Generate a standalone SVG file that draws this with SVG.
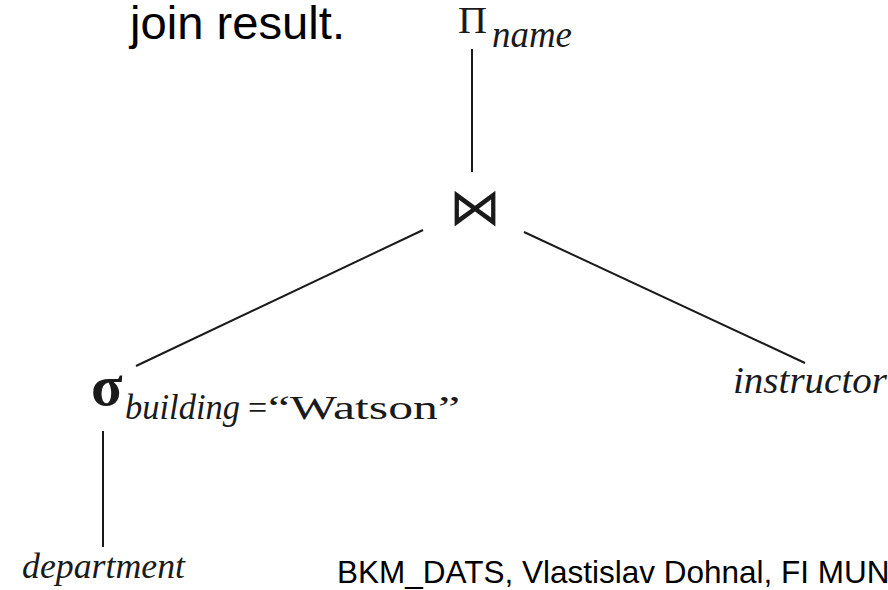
<svg xmlns="http://www.w3.org/2000/svg" width="888" height="590" viewBox="0 0 888 590">
<style>
.sans{font-family:"Liberation Sans",Arial,sans-serif;fill:#000}
.ser{font-family:"Liberation Serif","Times New Roman",serif;fill:#1a1a1a}
.it{font-style:italic}
.edge{stroke:#1a1a1a;stroke-width:2;fill:none}
</style>
<rect width="888" height="590" fill="#fff"/>
<text class="sans" x="130" y="39" font-size="46" textLength="215" lengthAdjust="spacingAndGlyphs">join result.</text>
<g id="connectors">
<line class="edge" x1="472" y1="49" x2="472" y2="172"/>
<line class="edge" x1="423" y1="230" x2="136" y2="366"/>
<line class="edge" x1="524" y1="232" x2="805" y2="363"/>
<line class="edge" x1="103" y1="431" x2="103" y2="547"/>
</g>
<g id="node-project">
<text class="ser" x="458" y="33" font-size="38" textLength="29" lengthAdjust="spacingAndGlyphs">Π</text>
<text class="ser it" x="492" y="47" font-size="37" textLength="80" lengthAdjust="spacingAndGlyphs">name</text>
</g>
<g id="node-join">
<text x="475" y="225" font-family="DejaVu Sans,sans-serif" font-size="52" text-anchor="middle" fill="#1a1a1a">⋈</text>
</g>
<g id="node-select">
<text class="ser" x="91" y="405" font-size="58" font-weight="bold">σ</text>
<text class="ser it" x="125" y="419" font-size="35" textLength="115" lengthAdjust="spacingAndGlyphs">building</text>
<text class="ser" x="248" y="419" font-size="34">=</text>
<text class="ser" x="268" y="419" font-size="33" textLength="192" lengthAdjust="spacingAndGlyphs">“Watson”</text>
</g>
<g id="node-instructor">
<text class="ser it" x="733" y="393" font-size="37" textLength="154" lengthAdjust="spacingAndGlyphs">instructor</text>
</g>
<g id="node-department">
<text class="ser it" x="22" y="578" font-size="36" textLength="163" lengthAdjust="spacingAndGlyphs">department</text>
</g>
<text class="sans" x="337" y="583" font-size="31.5">BKM_DATS, Vlastislav Dohnal, FI MUN</text>
</svg>
